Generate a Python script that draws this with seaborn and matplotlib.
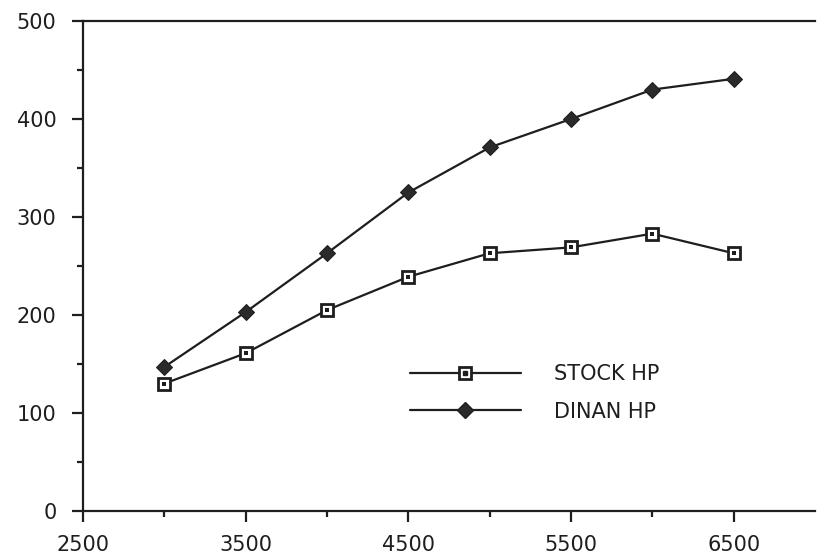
import matplotlib
matplotlib.use("Agg")
import matplotlib.pyplot as plt
from matplotlib.legend_handler import HandlerTuple
from matplotlib.lines import Line2D
import seaborn as sns
import pandas as pd

# --- horsepower vs rpm ---
rpm = [3000, 3500, 4000, 4500, 5000, 5500, 6000, 6500]
stock_hp = [130, 161, 205, 239, 263, 269, 283, 263]
dinan_hp = [147, 203, 263, 325, 371, 400, 430, 441]

df = pd.DataFrame({"rpm": rpm, "STOCK HP": stock_hp, "DINAN HP": dinan_hp})

sns.set_style("white")
plt.rcParams["font.family"] = ["DejaVu Sans"]

fig = plt.figure(figsize=(8.17, 5.57), dpi=100)
ax = fig.add_axes([0.1016, 0.0826, 0.896, 0.8797])

ink = "#1e1e1e"
sns.lineplot(data=df, x="rpm", y="STOCK HP", ax=ax, color=ink, lw=1.6,
             marker="s", markersize=9, markerfacecolor="white",
             markeredgecolor=ink, markeredgewidth=2.0)
sns.scatterplot(data=df, x="rpm", y="STOCK HP", ax=ax, color=ink, s=5,
                marker="s", linewidth=0, zorder=5)
sns.lineplot(data=df, x="rpm", y="DINAN HP", ax=ax, color=ink, lw=1.6,
             marker="D", markersize=8.5, markerfacecolor="#2a2a2a",
             markeredgecolor=ink)

ax.set_xlim(2500, 7000)
ax.set_ylim(0, 500)
ax.set_xticks(range(2500, 7000, 1000))
ax.set_xticks(range(3000, 7000, 1000), minor=True)
ax.set_yticks(range(0, 501, 100))
ax.set_yticks(range(50, 500, 100), minor=True)
ax.set_xlabel("")
ax.set_ylabel("")

for side in ["left", "bottom", "top"]:
    ax.spines[side].set_color(ink)
    ax.spines[side].set_linewidth(1.6)
ax.spines["right"].set_visible(False)

ax.tick_params(axis="both", which="major", direction="out", length=8,
               width=1.6, color=ink, labelsize=15, labelcolor=ink)
ax.tick_params(axis="x", which="major", pad=9)
ax.tick_params(axis="y", which="major", pad=11)
ax.tick_params(axis="both", which="minor", direction="out", length=4.5,
               width=1.6, color=ink)
ax.tick_params(bottom=True, left=True, which="both")

sq = Line2D([], [], color=ink, lw=1.6, marker="s", markersize=9,
            markerfacecolor="white", markeredgecolor=ink, markeredgewidth=2.0)
dot = Line2D([], [], ls="none", marker="s", markersize=2.5, color=ink)
dia = Line2D([], [], color=ink, lw=1.6, marker="D", markersize=8.5,
             markerfacecolor="#2a2a2a", markeredgecolor=ink)

fig.legend([(sq, dot), dia], ["STOCK HP", "DINAN HP"],
           handler_map={tuple: HandlerTuple(ndivide=1)},
           loc="center left", bbox_to_anchor=(0.502, 0.295),
           frameon=False, fontsize=15, handlelength=5.3,
           handletextpad=1.6, labelspacing=0.85, borderpad=0,
           borderaxespad=0, labelcolor=ink)

plt.savefig("out.png", dpi=100)
